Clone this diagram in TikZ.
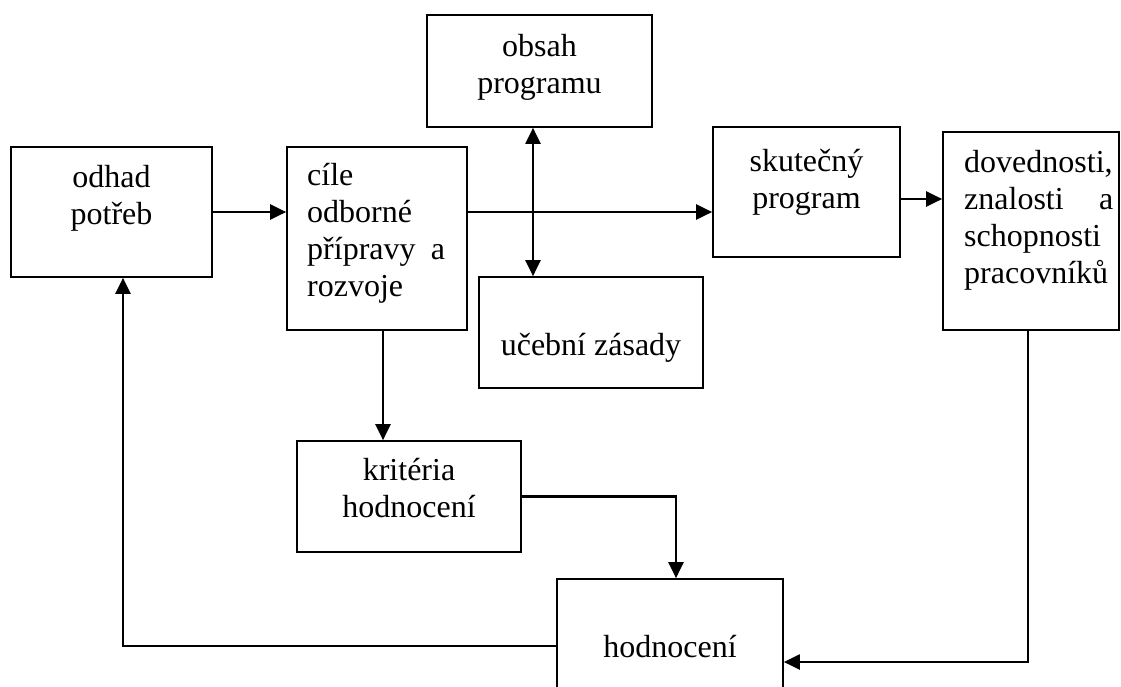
\documentclass[tikz,border=0pt]{standalone}
\usepackage{fontspec}
\setmainfont{Liberation Serif}
\usetikzlibrary{arrows.meta}
\begin{document}
\begin{tikzpicture}[x=1pt,y=-1pt,
  box/.style={draw, line width=1.7pt, inner sep=0pt},
  txt/.style={inner sep=0pt, font=\fontsize{32}{37}\selectfont},
  tip/.tip={Triangle[length=16pt,width=15pt]},
  arr/.style={line width=2.2pt, -tip},
  arrb/.style={line width=2.2pt, tip-tip}]
\useasboundingbox (0,0) rectangle (1121,686);
% boxes
\node[box, minimum width=201pt, minimum height=130pt] (odhad) at (111.5,212) {};
\node[box, minimum width=180pt, minimum height=183pt] (cile) at (377,238.5) {};
\node[box, minimum width=225pt, minimum height=112pt] (obsah) at (539.5,71) {};
\node[box, minimum width=187pt, minimum height=130pt] (skut) at (806.5,192) {};
\node[box, minimum width=176pt, minimum height=198pt] (dov) at (1031,231) {};
\node[box, minimum width=224pt, minimum height=111pt] (uceb) at (591,332.5) {};
\node[box, minimum width=224pt, minimum height=111pt] (krit) at (409,496.5) {};
\node[box, minimum width=226pt, minimum height=131pt] (hod) at (670,644.5) {};
% texts
\node[txt, anchor=north, align=center] (odhadT) at (111.5,163) {\rule{0pt}{24pt}odhad\\potřeb};
\node[txt, anchor=north west, align=left] (cileT) at (307,161) {\rule{0pt}{24pt}cíle\\odborné\\\makebox[138pt][s]{přípravy\hfill a}\\rozvoje};
\node[txt, anchor=north, align=center] (obsahT) at (539.5,32) {\rule{0pt}{24pt}obsah\\programu};
\node[txt, anchor=north, align=center] (skutT) at (806.5,147) {\rule{0pt}{24pt}skutečný\\program};
\node[txt, anchor=north west, align=left] (dovT) at (964,148) {\rule{0pt}{24pt}dovednosti,\\\makebox[149pt][s]{znalosti\hfill a}\\schopnosti\\pracovníků};
\node[txt, anchor=north, align=center] (ucebT) at (591,331) {\rule{0pt}{24pt}učební zásady};
\node[txt, anchor=north, align=center] (kritT) at (409,456) {\rule{0pt}{24pt}kritéria\\hodnocení};
\node[txt, anchor=north, align=center] (hodT) at (670,633) {\rule{0pt}{24pt}hodnocení};
% helper coordinates
\coordinate (vx) at (533,0);
\coordinate (cx) at (383,0);
\coordinate (hx) at (676,0);
\coordinate (fb) at (123,646);
\coordinate (db) at (1028,662);
% connectors
\draw[arr] (odhad.east) -- (cile.west |- odhad.east);
\draw[arr] (cile.east |- odhad.east) -- (skut.west |- odhad.east);
\draw[arrb] (obsah.south -| vx) -- (uceb.north -| vx);
\draw[arr] ([yshift=-7pt]skut.east) -- ([yshift=-7pt]skut.east -| dov.west);
\draw[arr] (cile.south -| cx) -- (krit.north -| cx);
\draw[arr] (krit.east) -- (krit.east -| hx) -- (hod.north -| hx);
\draw[arr] (hod.west |- fb) -- (fb) -- (odhad.south -| fb);
\draw[arr] (dov.south -| db) -- (db) -- (hod.east |- db);
\end{tikzpicture}
\end{document}
